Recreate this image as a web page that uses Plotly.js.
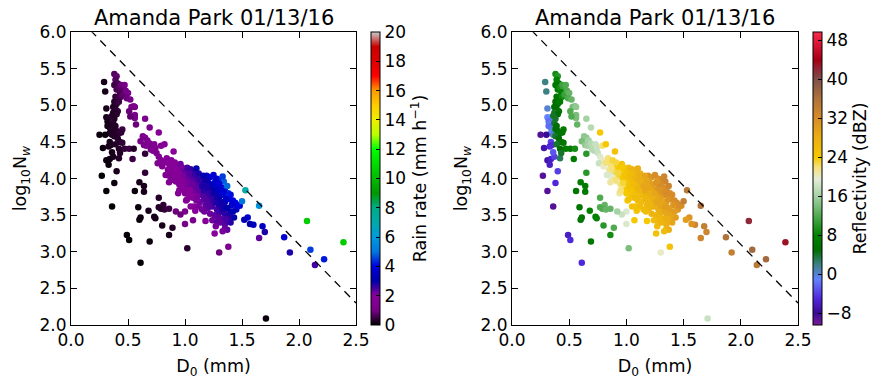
<!DOCTYPE html>
<html>
<head>
<meta charset="utf-8">
<script src="https://cdn.plot.ly/plotly-3.0.1.min.js"></script>
<style>html,body{margin:0;padding:0;background:#fff;}#chart{width:886px;height:386px;}</style>
</head>
<body>
<div id="chart"></div>
<script>
// ---- data ----
const chartTitle = "Amanda Park 01/13/16";
const D0 = [
0.29,0.30,0.31,0.31,0.33,0.32,0.33,0.34,0.32,0.35,0.34,0.36,0.25,0.30,0.28,0.34,0.35,0.33,0.31,0.34,
0.37,0.36,0.33,0.27,0.31,0.38,0.36,0.40,0.42,0.38,0.40,0.39,0.41,0.38,0.40,0.42,0.44,0.45,0.47,0.43,
0.39,0.41,0.44,0.46,0.48,0.50,0.49,0.52,0.38,0.40,0.42,0.37,0.39,0.41,0.37,0.40,0.36,0.38,0.37,0.39,
0.38,0.40,0.42,0.45,0.44,0.38,0.41,0.43,0.45,0.39,0.42,0.47,0.51,0.54,0.43,0.53,0.55,0.56,0.51,0.56,
0.56,0.57,0.52,0.65,0.69,0.63,0.65,0.67,0.61,0.64,0.66,0.69,0.71,0.73,0.70,0.72,0.74,0.75,0.77,0.79,
0.82,0.77,0.79,0.76,0.80,0.82,0.84,0.86,0.88,0.90,0.85,0.88,0.90,0.92,0.94,0.96,0.98,1.00,1.02,1.05,
1.08,1.10,0.90,0.93,0.95,0.97,0.99,1.01,1.03,1.05,1.07,1.09,1.11,1.13,1.15,0.83,0.86,0.88,0.92,0.95,
0.98,0.94,1.00,1.03,1.06,1.08,1.10,1.12,1.14,1.16,1.04,1.07,1.11,1.01,1.05,1.08,1.13,1.17,1.20,1.18,
1.22,1.15,1.20,1.24,1.26,1.28,1.30,1.22,1.26,1.30,1.33,1.35,1.24,1.28,1.32,1.35,1.38,1.27,1.26,1.35,
1.37,1.40,1.33,1.18,1.07,1.00,1.00,0.96,0.92,1.43,1.40,1.45,1.19,1.22,1.25,1.28,1.31,1.34,1.33,1.20,
1.23,1.26,1.29,1.32,1.35,1.37,1.24,1.27,1.30,1.33,1.36,1.38,1.39,1.42,1.44,1.46,1.48,1.50,1.41,1.35,
1.30,1.27,1.15,1.17,1.21,1.53,1.65,1.55,1.52,1.60,1.57,1.68,1.70,1.65,1.87,1.92,2.07,2.10,2.14,2.22,
2.39,0.49,0.51,0.61,0.69,0.59,0.61,0.60,0.68,0.73,0.74,0.77,0.77,0.81,0.79,0.82,0.80,0.86,0.89,0.86,
1.02,1.30,1.38,1.71,0.65,0.60,0.64,0.64,0.56,0.65,0.55,0.87,0.91,0.93,0.97,0.99,1.02,1.04,1.06,1.09,
1.12,1.13,1.16,1.18,1.19,1.21,1.23,1.25,1.19,1.16,1.10,1.12,1.09,1.17,1.21,1.29,1.32,1.34,1.37,1.39,
1.31,1.29,1.36,1.42,1.31,1.34,1.28,1.40,1.36,1.30,1.27,0.97,1.00,1.04,0.90,0.86,1.02,0.95
];
const logNw = [
5.32,5.19,4.96,4.84,4.83,4.78,4.74,4.70,4.72,4.66,4.62,4.60,4.60,4.60,4.42,4.50,4.46,4.44,4.25,4.27,
4.30,4.36,4.19,4.04,3.83,3.94,3.62,4.10,4.28,5.43,5.40,5.35,5.30,5.28,5.22,5.25,5.28,5.22,5.28,5.18,
5.12,5.10,5.12,5.15,5.20,5.17,5.10,5.08,5.05,5.02,5.05,4.98,4.95,4.92,4.90,4.88,4.86,4.82,4.76,4.72,
4.68,4.65,4.62,4.67,4.63,4.58,4.55,4.50,4.49,4.47,4.41,4.41,4.41,4.27,4.35,4.98,4.99,4.98,4.92,4.87,
4.83,4.74,4.85,4.82,4.70,4.58,4.56,4.52,4.51,4.46,4.45,4.48,4.44,4.47,4.40,4.38,4.42,4.35,4.63,4.45,
4.47,4.30,4.25,4.21,4.17,4.22,4.28,4.20,4.25,4.37,4.12,4.10,4.15,4.18,4.12,4.20,4.14,4.10,4.15,4.13,
4.10,4.14,4.05,4.02,4.07,4.00,4.04,3.98,4.03,3.97,4.02,3.95,4.00,3.93,3.98,4.05,4.04,4.02,3.96,3.92,
3.88,3.80,3.85,3.88,3.86,3.82,3.88,3.84,3.80,3.86,3.78,3.74,3.76,3.70,3.62,3.62,3.68,3.72,3.78,3.64,
3.70,3.58,3.60,3.62,3.68,3.58,3.63,3.52,3.50,3.53,3.57,3.52,3.43,3.40,3.45,3.38,3.45,3.35,3.25,3.32,
3.30,3.40,3.28,3.42,3.43,3.38,3.55,3.51,3.55,3.47,3.55,3.58,4.04,4.02,4.05,4.00,3.97,3.96,4.03,3.95,
3.92,3.94,3.90,3.88,3.86,3.90,3.85,3.83,3.80,3.78,3.76,3.80,3.72,3.70,3.67,3.64,3.63,3.69,3.64,3.68,
3.72,3.75,3.90,3.82,3.86,3.84,3.63,3.47,3.44,3.37,3.38,3.35,3.27,3.19,3.20,2.99,3.42,3.03,2.82,2.90,
3.13,3.23,3.16,2.85,3.14,3.61,3.47,3.44,3.56,3.48,3.46,3.74,3.61,3.64,3.59,3.58,3.36,3.59,3.33,3.23,
3.05,2.99,3.07,2.09,4.08,3.95,3.90,3.82,3.83,4.34,4.41,4.15,4.22,4.08,4.16,3.95,3.92,4.07,3.92,4.06,
4.07,3.98,4.04,3.97,3.90,3.80,3.75,3.80,3.70,3.76,3.70,3.62,3.56,3.55,3.64,3.66,3.68,3.62,3.60,3.50,
3.40,3.47,3.45,3.55,3.85,3.82,3.87,3.78,3.72,3.93,3.97,3.94,3.80,3.84,3.98,3.95,3.72,3.84
];
const rainRate = [
0.2,0.2,0.2,0.2,0.3,0.2,0.2,0.3,0.2,0.3,0.2,0.3,0.1,0.1,0.1,0.2,0.2,0.2,0.1,0.1,
0.2,0.2,0.1,0.05,0.05,0.1,0.05,0.2,0.3,0.7,0.8,0.7,0.6,0.5,0.6,0.7,0.9,0.8,1.0,0.6,
0.4,0.5,0.7,0.8,1.0,1.1,0.9,1.0,0.3,0.4,0.5,0.3,0.3,0.4,0.3,0.3,0.3,0.3,0.3,0.3,
0.3,0.3,0.4,0.5,0.4,0.3,0.3,0.3,0.4,0.3,0.3,0.4,0.5,0.5,0.3,1.1,1.2,1.2,0.9,1.1,
1.0,0.9,0.8,1.3,1.3,1.2,1.3,1.3,1.1,1.2,1.3,1.4,1.4,1.5,1.3,1.4,1.5,1.4,1.8,1.7,
1.8,1.5,1.6,1.5,1.6,1.7,1.8,1.8,1.9,2.0,1.7,1.8,1.9,2.0,2.0,2.2,2.2,2.3,2.5,2.6,
2.7,3.0,1.8,1.9,2.0,2.0,2.1,2.1,2.2,2.2,2.4,2.3,2.5,2.4,2.7,1.5,1.5,1.5,1.6,1.7,
1.8,1.6,1.9,2.0,2.1,2.1,2.3,2.3,2.3,2.5,2.0,2.0,2.1,1.9,2.0,2.0,2.2,2.3,2.5,2.3,
2.5,2.2,2.3,2.5,2.7,2.5,2.7,2.2,2.3,2.5,2.8,2.7,2.2,2.3,2.4,2.4,2.6,2.1,2.0,2.2,
2.3,2.7,2.1,1.9,1.2,1.0,1.1,0.9,0.9,3.0,3.2,3.6,3.5,3.6,3.8,3.8,4.2,4.8,4.5,3.2,
3.3,3.5,3.6,3.9,4.2,4.9,3.0,3.2,3.4,3.6,3.8,4.3,3.8,4.0,4.0,3.9,4.0,5.0,3.7,3.3,
3.0,2.9,2.8,2.7,2.9,7.0,5.8,3.8,3.2,3.5,3.0,3.5,2.8,2.3,3.8,2.8,10.5,4.5,2.5,4.2,
10.5,0.05,0.05,0.05,0.1,0.1,0.1,0.1,0.2,0.2,0.2,0.3,0.3,0.4,0.3,0.4,0.2,0.5,0.3,0.2,
0.3,0.9,1.3,0.1,0.4,0.2,0.2,0.2,0.1,0.4,0.3,1.8,1.9,1.9,2.1,2.0,2.1,2.4,2.2,2.6,
2.8,2.6,3.1,2.9,2.8,2.6,2.6,2.9,2.4,2.4,2.1,2.1,2.0,2.2,2.4,2.8,2.9,2.9,3.0,2.8,
2.3,2.3,2.5,3.2,3.6,3.8,3.4,4.1,3.5,3.9,3.7,1.9,1.9,2.0,1.7,1.6,1.9,1.8
];
const reflectivity = [
2,2,0,-1,-1,-2,-1,0,-2,0,-1,1,-9,-8,-7,-4,-5,-5,-7,-6,
-4,-3,-6,-9,-9,-5,-9,-4,3,9,10,8,7,6,7,9,11,11,12,8,
6,6,9,11,12,13,12,13,5,6,7,5,5,6,4,5,4,4,4,5,
5,5,6,7,6,4,5,6,6,4,5,7,7,7,4,14,14,15,12,14,
14,13,12,16,17,15,15,16,14,15,16,17,17,18,17,17,18,18,24,22,
24,19,20,18,20,22,22,22,23,25,21,22,23,24,24,25,25,25,26,27,
27,28,23,23,24,24,25,25,26,26,27,27,28,28,28,19,19,20,21,22,
22,21,24,25,26,26,27,27,27,28,25,26,26,24,25,25,26,27,28,27,
28,26,27,28,29,28,29,27,27,28,29,29,26,27,28,28,29,26,25,27,
28,29,26,24,24,19,19,18,16,30,30,31,31,31,32,32,33,33,33,30,
30,31,31,32,32,33,30,30,31,31,32,32,32,32,32,32,32,34,31,30,
30,29,29,29,29,35,36,31,30,33,31,34,33,33,36,34,42,37,35,37,
43,-6,-5,-5,6,6,6,6,8,8,8,12,12,13,12,13,10,13,12,9,
14,20,25,18,10,7,7,7,6,10,9,22,23,23,24,24,25,26,26,27,
28,28,29,29,29,28,28,29,27,27,26,26,25,26,27,29,29,30,30,29,
27,27,28,30,31,32,31,32,31,32,31,23,24,25,22,21,25,22
];
// dashed reference line end points
const lineX = [0.0, 2.5];
const lineY = [6.3, 2.3];
const xTicks = [0.0, 0.5, 1.0, 1.5, 2.0, 2.5];
const yTicks = [2.0, 2.5, 3.0, 3.5, 4.0, 4.5, 5.0, 5.5, 6.0];
const rainTicks = [0,2,4,6,8,10,12,14,16,18,20];
const reflTicks = [-8,0,8,16,24,32,40,48];

// ---- colour scales ----
const nipySpectral = [
[0.00,'rgb(0,0,0)'],[0.05,'rgb(119,0,136)'],[0.10,'rgb(136,0,153)'],[0.15,'rgb(0,0,170)'],
[0.20,'rgb(0,0,221)'],[0.25,'rgb(0,119,221)'],[0.30,'rgb(0,153,221)'],[0.35,'rgb(0,170,170)'],
[0.40,'rgb(0,170,136)'],[0.45,'rgb(0,153,0)'],[0.50,'rgb(0,187,0)'],[0.55,'rgb(0,221,0)'],
[0.60,'rgb(0,255,0)'],[0.65,'rgb(187,255,0)'],[0.70,'rgb(238,238,0)'],[0.75,'rgb(255,204,0)'],
[0.80,'rgb(255,153,0)'],[0.85,'rgb(255,0,0)'],[0.90,'rgb(221,0,0)'],[0.95,'rgb(204,0,0)'],
[1.00,'rgb(204,204,204)']
];
const zMin = -10.4, zMax = 49.7;
const zStops = [
[-10.4,'rgb(120,30,150)'],[-8,'rgb(60,10,150)'],[-5,'rgb(80,40,220)'],[-1,'rgb(100,130,255)'],
[2,'rgb(60,130,130)'],[5,'rgb(0,110,0)'],[8,'rgb(0,130,0)'],[12,'rgb(80,170,80)'],
[16,'rgb(165,210,165)'],[19.5,'rgb(228,236,215)'],[22,'rgb(245,225,120)'],[24,'rgb(245,200,0)'],
[28,'rgb(235,175,20)'],[32,'rgb(215,140,40)'],[36,'rgb(175,115,60)'],[40,'rgb(125,80,75)'],
[42,'rgb(145,40,55)'],[44,'rgb(165,0,20)'],[47,'rgb(215,20,50)'],[49.7,'rgb(245,45,75)']
];
const reflScale = zStops.map(s => [(s[0]-zMin)/(zMax-zMin), s[1]]);

const FONT = 'DejaVu Sans, Arial, sans-serif';
const W = 886, H = 386;
const yDom = [1-325/H, 1-32.3/H];

function axisX(dom, anchor) {
  return {domain: dom, anchor: anchor, range: [0, 2.5], tickvals: xTicks, tickformat: '.1f',
    showline: true, mirror: 'allticks', linecolor: 'black', linewidth: 1, ticks: 'inside', ticklen: 6,
    tickcolor: 'black', showgrid: false, zeroline: false, tickfont: {size: 17, color: 'black'},
    title: {text: 'D<sub>0</sub> (mm)', font: {size: 17.5, color: 'black'}, standoff: 10}};
}
function axisY(anchor) {
  return {domain: yDom, anchor: anchor, range: [2, 6], tickvals: yTicks, tickformat: '.1f',
    showline: true, mirror: 'allticks', linecolor: 'black', linewidth: 1, ticks: 'inside', ticklen: 6,
    tickcolor: 'black', showgrid: false, zeroline: false, tickfont: {size: 17, color: 'black'},
    title: {text: 'log<sub>10</sub>N<sub><i>w</i></sub>', font: {size: 17.5, color: 'black'}, standoff: 8}};
}
function cbar(xpix, ticks, title) {
  return {x: xpix/W, xanchor: 'left', xpad: 0, ypad: 0, thickness: 9, thicknessmode: 'pixels',
    len: (325-32.3)/H, lenmode: 'fraction', y: yDom[0], yanchor: 'bottom',
    outlinewidth: 1, outlinecolor: 'black', ticks: 'inside', ticklen: 4, tickcolor: 'black',
    tickvals: ticks, tickfont: {size: 17, color: 'black'},
    title: {text: title, side: 'right', font: {size: 17.5, color: 'black'}}};
}

const traces = [
  {type: 'scatter', mode: 'markers', x: D0, y: logNw, xaxis: 'x', yaxis: 'y', hoverinfo: 'skip',
   marker: {size: 6.5, color: rainRate, colorscale: nipySpectral, cmin: 0, cmax: 20, line: {width: 0},
   showscale: true, colorbar: cbar(371, rainTicks, 'Rain rate (mm h<sup>−1</sup>)')}},
  {type: 'scatter', mode: 'lines', x: lineX, y: lineY, xaxis: 'x', yaxis: 'y', hoverinfo: 'skip',
   line: {color: 'black', width: 1.3, dash: '8px,6px'}},
  {type: 'scatter', mode: 'markers', x: D0, y: logNw, xaxis: 'x2', yaxis: 'y2', hoverinfo: 'skip',
   marker: {size: 6.5, color: reflectivity, colorscale: reflScale, cmin: zMin, cmax: zMax, line: {width: 0},
   showscale: true, colorbar: cbar(813, reflTicks, 'Reflectivity (dBZ)')}},
  {type: 'scatter', mode: 'lines', x: lineX, y: lineY, xaxis: 'x2', yaxis: 'y2', hoverinfo: 'skip',
   line: {color: 'black', width: 1.3, dash: '8px,6px'}}
];

const layout = {
  width: W, height: H, margin: {l: 0, r: 0, t: 0, b: 0}, showlegend: false,
  paper_bgcolor: 'white', plot_bgcolor: 'white', font: {family: FONT, color: 'black'},
  xaxis: axisX([71/W, 356/W], 'y'), yaxis: axisY('x'),
  xaxis2: axisX([512/W, 798/W], 'y2'), yaxis2: axisY('x2'),
  annotations: [
    {text: chartTitle, x: (71+356)/2/W, y: 1-18/H, xref: 'paper', yref: 'paper', showarrow: false,
     xanchor: 'center', yanchor: 'middle', font: {size: 21, color: 'black'}},
    {text: chartTitle, x: (512+798)/2/W, y: 1-18/H, xref: 'paper', yref: 'paper', showarrow: false,
     xanchor: 'center', yanchor: 'middle', font: {size: 21, color: 'black'}}
  ]
};
Plotly.newPlot('chart', traces, layout, {staticPlot: true, displayModeBar: false});
</script>
</body>
</html>
